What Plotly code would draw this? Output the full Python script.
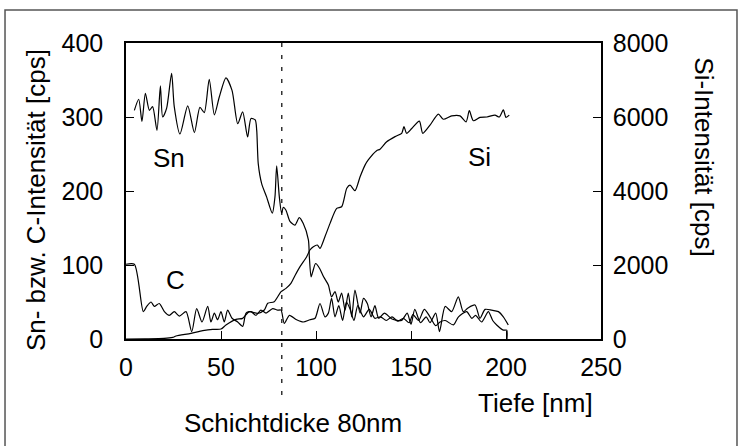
import plotly.graph_objects as go

# ---- data ----
sn_x = [4.4, 6.7, 8.4, 10.2, 12.3, 14.0, 16.3, 18.1, 19.3, 21.4, 24.0, 25.4, 28.4, 32.5, 36.0,
        38.9, 41.2, 43.8, 46.5, 49.1, 52.6, 55.8, 58.8, 61.4, 64.0, 65.8, 68.0, 68.8, 69.6,
        71.4, 74.0, 77.0, 78.4, 79.3, 80.7, 81.9, 82.8, 84.2, 86.3, 88.9, 91.2, 93.3, 96.0,
        96.5, 97.4, 98.2, 99.8, 102.0, 104.0, 106.5, 108.2, 110.0, 111.7, 113.5, 115.3, 117.0,
        118.8, 120.5, 123.2, 125.0, 127.0, 129.0, 131.0, 133.0, 136.0, 140.0, 145.0, 148.0,
        150.0, 152.0, 155.0, 158.0, 160.0, 163.0, 165.0, 168.0, 171.4, 174.9, 177.5, 180.0,
        183.7, 186.3, 189.0, 192.5, 196.0, 198.6, 201.2]
sn_y = [309, 324, 294, 332, 309, 314, 282, 342, 300, 312, 359, 314, 277, 315, 279,
        313, 306, 351, 303, 327, 353, 336, 291, 307, 273, 298, 296, 282, 237,
        210, 192, 170, 192, 234, 192, 170, 178, 174, 159, 154, 164, 156, 134,
        111, 84, 90, 102, 95, 84, 73, 57, 64, 50, 62, 39, 62,
        30, 66, 35, 55, 48, 30, 45, 28, 35, 27, 25, 35,
        20, 40, 22, 30, 22, 35, 10, 44, 37, 57, 37, 42,
        46, 28, 40, 39, 37, 30, 19]

c_x = [0.0, 4.4, 9.1, 10.9, 13.2, 14.9, 17.5, 20.2, 22.8, 25.4, 28.1, 31.6, 34.6, 37.2, 40.0,
       43.0, 44.7, 46.5, 48.2, 50.0, 51.7, 53.5, 55.8, 58.8, 61.4, 63.2, 65.8, 68.4, 71.0,
       73.7, 77.2, 79.8, 81.6, 83.3, 86.0, 89.8, 93.3, 96.8, 99.5, 102.1, 104.7, 106.5, 108.2,
       110.0, 112.0, 114.0, 116.0, 118.0, 120.0, 122.0, 125.0, 128.0, 131.0, 134.0, 137.0,
       140.0, 143.0, 146.0, 149.0, 151.0, 154.0, 157.0, 160.0, 163.0, 165.3, 168.0, 172.3,
       175.0, 179.3, 182.0, 184.0, 187.2, 190.7, 193.0, 195.1, 198.6, 200.4, 200.5]
c_y = [101, 101, 37, 44, 50, 44, 48, 37, 32, 37, 31, 37, 10, 41, 23,
       44, 23, 35, 26, 37, 23, 39, 28, 23, 17, 35, 37, 32, 39,
       35, 41, 39, 39, 21, 32, 26, 23, 26, 28, 48, 30, 35, 55,
       30, 45, 25, 50, 40, 25, 45, 30, 40, 28, 30, 25,
       30, 24, 28, 22, 33, 25, 40, 30, 18, 23, 25, 19,
       30, 37, 28, 32, 23, 37, 25, 19, 12, 12, 0]

si_x = [0.0, 10.0, 20.0, 24.6, 26.3, 34.2, 40.4, 45.6, 50.0, 52.6, 57.9, 61.4, 64.9, 69.3,
        72.8, 74.6, 78.0, 81.6, 84.2, 86.8, 88.9, 91.6, 95.1, 96.8, 98.6, 100.7, 102.1, 104.7,
        107.4, 110.9, 113.5, 116.2, 117.9, 120.5, 123.2, 125.8, 127.5, 131.9, 133.7, 137.2,
        141.6, 145.1, 146.3, 147.7, 150.4, 154.4, 156.2, 160.0, 164.4, 167.0, 171.4, 175.8,
        179.0, 180.7, 182.8, 186.3, 190.0, 194.2, 196.5, 198.6, 200.0, 201.7]
si_y = [0, 5, 15, 45, 81, 153, 225, 261, 270, 378, 531, 558, 739, 694,
        784, 964, 1009, 1279, 1369, 1505, 1710, 1955, 2225, 2405, 2495, 2540, 2450, 2765,
        3125, 3530, 3575, 4075, 4160, 4010, 4385, 4700, 4840, 5090, 5130, 5330,
        5470, 5560, 5740, 5560, 5690, 5890, 5560, 5780, 6080, 5940, 6030, 6030,
        5870, 6170, 5900, 5990, 6000, 6050, 6000, 6190, 5990, 6050]

x_ticks = [0, 50, 100, 150, 200, 250]
left_ticks = [0, 100, 200, 300, 400]
right_ticks = [0, 2000, 4000, 6000, 8000]
layer_depth = 82

FONT = "Liberation Sans, Arial, sans-serif"
LINE = dict(color="black", width=1.2, shape="spline", smoothing=0.7)

fig = go.Figure()
fig.add_trace(go.Scatter(x=sn_x, y=sn_y, mode="lines", line=LINE, showlegend=False))
fig.add_trace(go.Scatter(x=c_x, y=c_y, mode="lines", line=LINE, showlegend=False))
fig.add_trace(go.Scatter(x=si_x, y=si_y, mode="lines", line=LINE, yaxis="y2", showlegend=False))

axis_common = dict(showline=True, linecolor="black", linewidth=1.5, ticks="inside",
                   ticklen=8, tickcolor="black", showgrid=False, zeroline=False,
                   tickfont=dict(family=FONT, size=25, color="black"))

fig.update_layout(
    width=741, height=446,
    margin=dict(l=126, r=140, t=43, b=107),
    paper_bgcolor="white", plot_bgcolor="white",
    xaxis=dict(range=[0, 250], tickvals=x_ticks, mirror=True, ticklabelstandoff=5, **axis_common),
    yaxis=dict(range=[0, 400], tickvals=left_ticks, ticklabelstandoff=16, **axis_common),
    yaxis2=dict(range=[0, 8000], tickvals=right_ticks, overlaying="y", side="right",
                ticklabelstandoff=5, **axis_common),
)

ann_font = dict(family=FONT, size=26, color="black")
fig.add_annotation(x=22.8, y=244, text="Sn", showarrow=False, font=ann_font)
fig.add_annotation(x=186.3, y=246, text="Si", showarrow=False, font=ann_font)
fig.add_annotation(x=26, y=80, text="C", showarrow=False, font=ann_font)
fig.add_annotation(xref="paper", yref="paper", x=-0.189, y=0.47, xanchor="center", yanchor="middle",
                   text="Sn- bzw. C-Intensität [cps]", textangle=-90, showarrow=False, font=ann_font)
fig.add_annotation(xref="paper", yref="paper", x=1.217, y=0.617, xanchor="center", yanchor="middle",
                   text="Si-Intensität [cps]", textangle=90, showarrow=False, font=ann_font)
fig.add_annotation(xref="paper", yref="paper", x=0.863, y=-0.216, xanchor="center", yanchor="middle",
                   text="Tiefe [nm]", showarrow=False, font=ann_font)
fig.add_annotation(xref="paper", yref="paper", x=0.352, y=-0.284, xanchor="center", yanchor="middle",
                   text="Schichtdicke 80nm", showarrow=False, font=ann_font)

fig.add_shape(type="line", xref="x", yref="paper", x0=layer_depth, x1=layer_depth, y0=1.0, y1=-0.21,
              line=dict(color="black", width=1.2, dash="4px,8px"))
fig.add_shape(type="rect", xref="paper", yref="paper", x0=-0.2547, x1=1.2863, y0=-0.4, y1=1.1115,
              line=dict(color="#555", width=1.5))

fig.write_html("out.html")
